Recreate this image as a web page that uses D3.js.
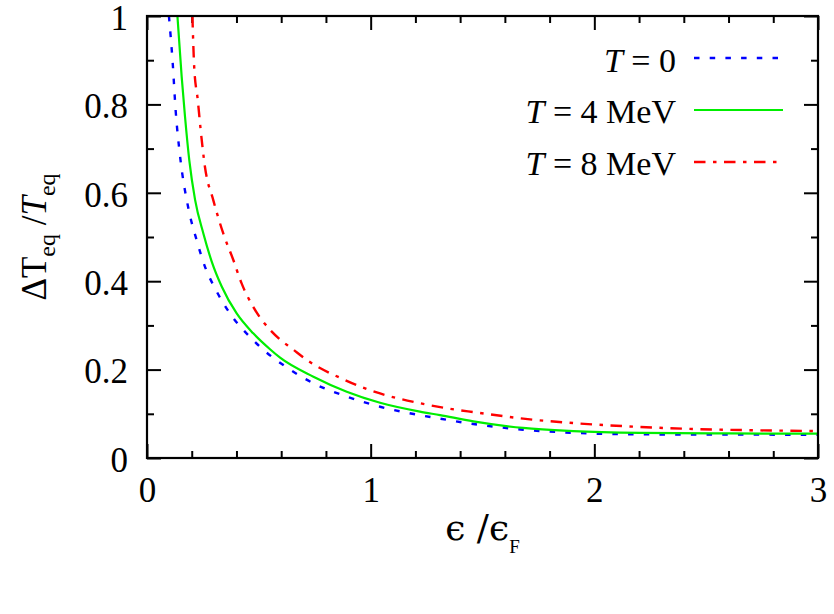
<!DOCTYPE html>
<html>
<head>
<meta charset="utf-8">
<script src="https://cdn.jsdelivr.net/npm/d3@7"></script>
<style>
  html, body { margin: 0; padding: 0; background: #fff; }
  svg { display: block; }
  text { font-family: "Liberation Serif", "DejaVu Serif", serif; fill: #000; }
</style>
</head>
<body>
<svg id="chart" width="834" height="614"></svg>
<script>
// ---- data ----
const xT0 = [0.098, 0.115, 0.128, 0.148, 0.185, 0.222, 0.259, 0.304, 0.371, 0.46, 0.513, 0.625, 0.744, 0.893, 1.042, 1.22, 1.31, 1.459, 1.682, 1.906, 2.16, 2.5, 3.0];
const yT0 = [1.0, 0.893, 0.787, 0.682, 0.565, 0.493, 0.433, 0.384, 0.327, 0.274, 0.248, 0.205, 0.169, 0.139, 0.116, 0.097, 0.089, 0.077, 0.064, 0.057, 0.0536, 0.053, 0.0527];

const xT4 = [0.136, 0.155, 0.170, 0.189, 0.215, 0.252, 0.289, 0.334, 0.401, 0.475, 0.55, 0.595, 0.744, 0.893, 1.042, 1.22, 1.31, 1.459, 1.682, 1.906, 2.204, 2.6, 3.0];
const yT4 = [1.0, 0.863, 0.772, 0.674, 0.584, 0.508, 0.445, 0.388, 0.327, 0.282, 0.246, 0.227, 0.184, 0.150, 0.125, 0.105, 0.097, 0.083, 0.068, 0.061, 0.057, 0.0555, 0.055];

const xT8 = [0.203, 0.211, 0.227, 0.240, 0.259, 0.296, 0.341, 0.386, 0.423, 0.475, 0.55, 0.595, 0.647, 0.714, 0.878, 1.042, 1.22, 1.385, 1.459, 1.682, 1.906, 2.174, 2.413, 2.681, 3.0];
const yT8 = [1.0, 0.885, 0.81, 0.742, 0.659, 0.584, 0.508, 0.448, 0.395, 0.342, 0.29, 0.268, 0.248, 0.222, 0.178, 0.146, 0.124, 0.109, 0.104, 0.089, 0.079, 0.071, 0.066, 0.063, 0.061];

const seriesNames = ["T = 0", "T = 4 MeV", "T = 8 MeV"];
const xTickLabels = [0, 1, 2, 3];
const yTickLabels = [0, 0.2, 0.4, 0.6, 0.8, 1];

// ---- layout ----
const W = 834, H = 614;
const margin = { left: 147, right: 16, top: 16, bottom: 156 };
const iw = W - margin.left - margin.right;
const ih = H - margin.top - margin.bottom;
const FS = 35;

const svg = d3.select("#chart");
const g = svg.append("g").attr("transform", `translate(${margin.left},${margin.top})`);

const x = d3.scaleLinear().domain([0, 3]).range([0, iw]);
const y = d3.scaleLinear().domain([0, 1]).range([ih, 0]);

const minorX = d3.range(0, 3.0001, 0.2).filter(v => Math.abs(v - Math.round(v)) > 1e-6);
const minorY = d3.range(0, 1.0001, 0.1).filter(v => Math.abs(v * 5 - Math.round(v * 5)) > 1e-6);

function styleAxis(sel) {
  sel.attr("font-family", null);
  sel.select(".domain").remove();
  sel.selectAll("line").attr("stroke", "#000").attr("stroke-width", 2);
  sel.selectAll("text").style("font-size", FS + "px").attr("fill", "#000");
}

const majorLen = 14, minorLen = 7;

// bottom
g.append("g").attr("transform", `translate(0,${ih})`)
  .call(d3.axisBottom(x).tickValues(xTickLabels).tickSize(-majorLen).tickPadding(19).tickFormat(d3.format("d")))
  .call(styleAxis);
g.append("g").attr("transform", `translate(0,${ih})`)
  .call(d3.axisBottom(x).tickValues(minorX).tickSize(-minorLen).tickFormat(""))
  .call(styleAxis);
// top
g.append("g")
  .call(d3.axisTop(x).tickValues(xTickLabels).tickSize(-majorLen).tickFormat(""))
  .call(styleAxis);
g.append("g")
  .call(d3.axisTop(x).tickValues(minorX).tickSize(-minorLen).tickFormat(""))
  .call(styleAxis);
// left
g.append("g")
  .call(d3.axisLeft(y).tickValues(yTickLabels).tickSize(-majorLen).tickPadding(19).tickFormat(d => d === 0 ? "0" : d === 1 ? "1" : d3.format(".1f")(d)))
  .call(styleAxis)
  .call(s => s.selectAll("text").attr("dy", "0.38em"));
g.append("g")
  .call(d3.axisLeft(y).tickValues(minorY).tickSize(-minorLen).tickFormat(""))
  .call(styleAxis);
// right
g.append("g").attr("transform", `translate(${iw},0)`)
  .call(d3.axisRight(y).tickValues(yTickLabels).tickSize(-majorLen).tickFormat(""))
  .call(styleAxis);
g.append("g").attr("transform", `translate(${iw},0)`)
  .call(d3.axisRight(y).tickValues(minorY).tickSize(-minorLen).tickFormat(""))
  .call(styleAxis);

// clip
svg.append("defs").append("clipPath").attr("id", "clip")
  .append("rect").attr("x", 0).attr("y", 0).attr("width", iw).attr("height", ih);

const series = [
  { name: seriesNames[0], xs: xT0, ys: yT0, color: "#0000ff", dash: "5.5,10.2", width: 2.4 },
  { name: seriesNames[1], xs: xT4, ys: yT4, color: "#00ee00", dash: null, width: 2.2 },
  { name: seriesNames[2], xs: xT8, ys: yT8, color: "#ff0000", dash: "11.5,7.5,3.5,7.5", width: 2.4 }
];

const line = d3.line().x(d => x(d[0])).y(d => y(d[1])).curve(d3.curveMonotoneX);

const plot = g.append("g").attr("clip-path", "url(#clip)");
series.forEach(s => {
  const pts = s.xs.map((v, i) => [v, s.ys[i]]);
  plot.append("path").datum(pts)
    .attr("d", line)
    .attr("fill", "none")
    .attr("stroke", s.color)
    .attr("stroke-width", s.width)
    .attr("stroke-dasharray", s.dash);
});

// frame
g.append("rect").attr("x", 0).attr("y", 0).attr("width", iw).attr("height", ih)
  .attr("fill", "none").attr("stroke", "#000").attr("stroke-width", 2.2);

// legend
const legendRows = [
  { textBase: 71.5, lineY: 58 },
  { textBase: 123, lineY: 110 },
  { textBase: 175, lineY: 162 }
];
series.forEach((s, i) => {
  const r = legendRows[i];
  const parts = s.name.split(" = ");
  const t = svg.append("text").attr("x", 676).attr("y", r.textBase)
    .attr("text-anchor", "end").style("font-size", "34px");
  t.append("tspan").attr("font-style", "italic").text(parts[0]);
  t.append("tspan").text(" = " + parts[1]);
  svg.append("line").attr("x1", 694).attr("x2", 783).attr("y1", r.lineY).attr("y2", r.lineY)
    .attr("stroke", s.color).attr("stroke-width", s.width).attr("stroke-dasharray", s.dash);
});

// x axis label
const xl = svg.append("text").attr("x", margin.left + iw / 2).attr("y", 540)
  .attr("text-anchor", "middle").style("font-size", "36px").style("font-family", "'DejaVu Serif', serif");
xl.append("tspan").text("\u03F5 /\u03F5");
xl.append("tspan").attr("dy", 13).style("font-size", "19px").style("font-family", "'Liberation Serif', serif").text("F");

// y axis label
const yl = svg.append("text")
  .attr("transform", `translate(46,${margin.top + ih / 2}) rotate(-90)`)
  .attr("text-anchor", "middle").style("font-size", "35px");
yl.append("tspan").text("\u0394T");
yl.append("tspan").attr("dy", 9).style("font-size", "24px").text("eq");
yl.append("tspan").attr("dy", -9).text(" /");
yl.append("tspan").attr("font-style", "italic").text("T");
yl.append("tspan").attr("dy", 9).style("font-size", "24px").text("eq");
</script>
</body>
</html>
